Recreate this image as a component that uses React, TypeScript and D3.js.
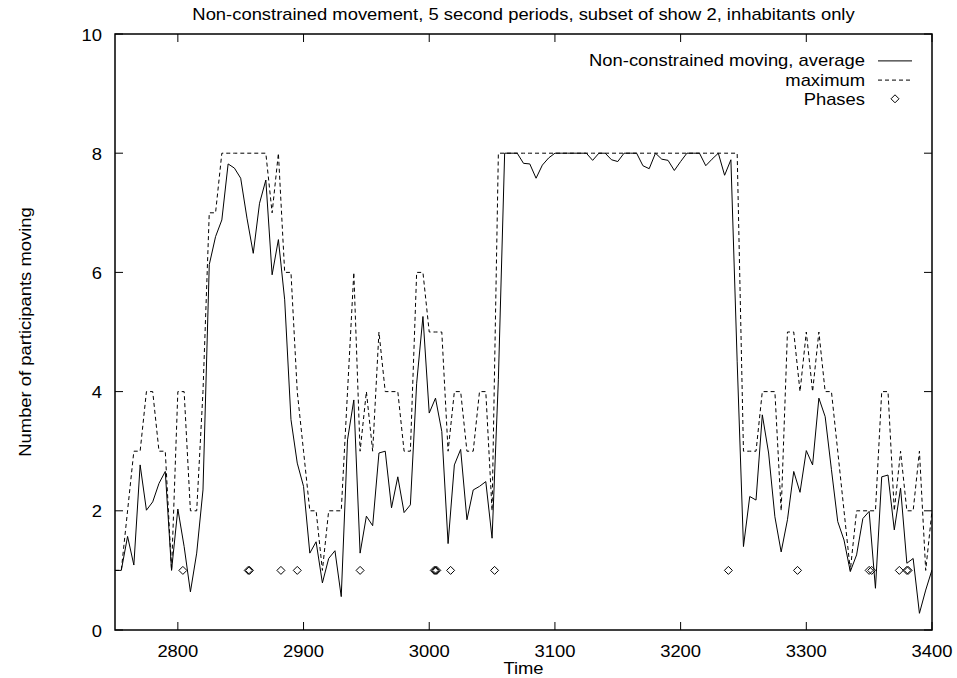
import * as d3 from 'd3'
import { useEffect, useRef } from 'react'

// sample times, 5 second periods
const times = [
  2750, 2755, 2760, 2765, 2770, 2775, 2780, 2785, 2790, 2795,
  2800, 2805, 2810, 2815, 2820, 2825, 2830, 2835, 2840, 2845,
  2850, 2855, 2860, 2865, 2870, 2875, 2880, 2885, 2890, 2895,
  2900, 2905, 2910, 2915, 2920, 2925, 2930, 2935, 2940, 2945,
  2950, 2955, 2960, 2965, 2970, 2975, 2980, 2985, 2990, 2995,
  3000, 3005, 3010, 3015, 3020, 3025, 3030, 3035, 3040, 3045,
  3050, 3055, 3060, 3065, 3070, 3075, 3080, 3085, 3090, 3095,
  3100, 3105, 3110, 3115, 3120, 3125, 3130, 3135, 3140, 3145,
  3150, 3155, 3160, 3165, 3170, 3175, 3180, 3185, 3190, 3195,
  3200, 3205, 3210, 3215, 3220, 3225, 3230, 3235, 3240, 3245,
  3250, 3255, 3260, 3265, 3270, 3275, 3280, 3285, 3290, 3295,
  3300, 3305, 3310, 3315, 3320, 3325, 3330, 3335, 3340, 3345,
  3350, 3355, 3360, 3365, 3370, 3375, 3380, 3385, 3390, 3395,
  3400,
]

const average = [
  1.0, 1.0, 1.57, 1.09, 2.77, 2.01, 2.15, 2.46, 2.66, 1.0,
  2.03, 1.4, 0.64, 1.29, 2.35, 6.13, 6.6, 6.88, 7.82, 7.75,
  7.58, 6.91, 6.32, 7.16, 7.55, 5.96, 6.55, 5.54, 3.53, 2.8,
  2.41, 1.29, 1.48, 0.79, 1.2, 1.33, 0.56, 3.19, 3.86, 1.29,
  1.91, 1.75, 2.97, 3.0, 2.05, 2.57, 1.97, 2.1, 4.14, 5.26,
  3.64, 3.89, 3.33, 1.45, 2.77, 3.03, 1.85, 2.35, 2.41, 2.49,
  1.54, 4.2, 8, 8, 8, 7.83, 7.82, 7.58, 7.8, 7.92,
  8, 8, 8, 8, 8, 8, 7.88, 8, 8, 7.89,
  7.86, 8, 8, 8, 7.79, 7.74, 8, 7.9, 7.88, 7.71,
  7.86, 8, 8, 8, 7.79, 7.9, 8, 7.63, 7.89, 4.5,
  1.4, 2.24, 2.18, 3.61, 2.97, 1.9, 1.31, 1.85, 2.66, 2.31,
  3.01, 2.77, 3.89, 3.58, 2.69, 1.82, 1.51, 0.98, 1.26, 1.87,
  1.99, 0.7, 2.57, 2.6, 1.68, 2.38, 1.12, 1.2, 0.28, 0.67,
  1.01,
]

const maximum = [
  1, 1, 2, 3, 3, 4, 4, 3, 3, 1,
  4, 4, 2, 2, 4, 7, 7, 8, 8, 8,
  8, 8, 8, 8, 8, 7, 8, 6, 6, 4,
  3, 2, 2, 1, 2, 2, 2, 4, 6, 3,
  4, 3, 5, 4, 4, 4, 3, 3, 6, 6,
  5, 5, 5, 3, 4, 4, 3, 3, 4, 4,
  2, 8, 8, 8, 8, 8, 8, 8, 8, 8,
  8, 8, 8, 8, 8, 8, 8, 8, 8, 8,
  8, 8, 8, 8, 8, 8, 8, 8, 8, 8,
  8, 8, 8, 8, 8, 8, 8, 8, 8, 8,
  3, 3, 3, 4, 4, 4, 2, 5, 5, 4,
  5, 4, 5, 4, 4, 3, 2, 1, 2, 2,
  2, 2, 4, 4, 2, 3, 2, 2, 3, 1,
  2,
]

const phaseTimes = [
  2804, 2856, 2857, 2882, 2895, 2945, 3004, 3005, 3006, 3017,
  3052, 3238, 3293, 3350, 3352, 3374, 3380, 3381,
]
const phaseValue = 1

const xTicks = [2800, 2900, 3000, 3100, 3200, 3300, 3400]
const yTicks = [0, 2, 4, 6, 8, 10]

const title = 'Non-constrained movement, 5 second periods, subset of show 2, inhabitants only'
const legendLabels = ['Non-constrained moving, average', 'maximum', 'Phases']

const W = 957,
  H = 678
const margin = { top: 34, right: 25, bottom: 48, left: 115 }
const FONT = 'Liberation Sans, Arial, Helvetica, sans-serif'
const FS = 17
const STRETCH = 1.082 // gnuplot's helvetica is a bit wider than arial

const App = () => {
  const ref = useRef<SVGSVGElement>(null)

  useEffect(() => {
    const svg = d3.select(ref.current)
    svg.selectAll('*').remove()

    const x = d3
      .scaleLinear()
      .domain([2750, 3400])
      .range([margin.left, W - margin.right])
    const y = d3
      .scaleLinear()
      .domain([0, 10])
      .range([H - margin.bottom, margin.top])

    const x0 = x.range()[0],
      x1 = x.range()[1],
      y0 = y.range()[0],
      y1 = y.range()[1]

    svg.append('rect').attr('width', W).attr('height', H).attr('fill', '#fff')

    svg
      .append('defs')
      .append('clipPath')
      .attr('id', 'plotclip')
      .append('rect')
      .attr('x', x0)
      .attr('y', y1)
      .attr('width', x1 - x0)
      .attr('height', y0 - y1)

    // tick marks, mirrored on all four sides, pointing inward
    const tk = 8
    const ticks = svg.append('g').attr('stroke', '#000').attr('stroke-width', 1)
    xTicks.forEach(function (t) {
      ticks.append('line').attr('x1', x(t)).attr('x2', x(t)).attr('y1', y0).attr('y2', y0 - tk)
      ticks.append('line').attr('x1', x(t)).attr('x2', x(t)).attr('y1', y1).attr('y2', y1 + tk)
    })
    yTicks.forEach(function (v) {
      ticks.append('line').attr('x1', x0).attr('x2', x0 + tk).attr('y1', y(v)).attr('y2', y(v))
      ticks.append('line').attr('x1', x1).attr('x2', x1 - tk).attr('y1', y(v)).attr('y2', y(v))
    })

    const text = svg
      .append('g')
      .attr('font-family', FONT)
      .attr('font-size', FS)
      .attr('fill', '#000')

    const label = function (px: number, py: number, str: string | number, anchor: string, rot?: boolean) {
      return text
        .append('text')
        .attr(
          'transform',
          'translate(' + px + ',' + py + ')' + (rot ? ' rotate(-90)' : '') + ' scale(' + STRETCH + ',1)',
        )
        .attr('text-anchor', anchor)
        .text(str)
    }

    xTicks.forEach(function (t) {
      label(x(t), 656.5, t, 'middle')
    })
    yTicks.forEach(function (v) {
      label(102, y(v) + 6.5, v, 'end')
    })

    label((x0 + x1) / 2, 20, title, 'middle')
    label((x0 + x1) / 2, 674, 'Time', 'middle')
    label(31, (y0 + y1) / 2, 'Number of participants moving', 'middle', true)

    const idx = d3.range(times.length)
    const plot = svg.append('g').attr('clip-path', 'url(#plotclip)')

    const avgLine = d3
      .line<number>()
      .x(function (i) {
        return x(times[i])
      })
      .y(function (i) {
        return y(average[i])
      })
    const maxLine = d3
      .line<number>()
      .x(function (i) {
        return x(times[i])
      })
      .y(function (i) {
        return y(maximum[i])
      })

    plot
      .append('path')
      .attr('d', avgLine(idx))
      .attr('fill', 'none')
      .attr('stroke', '#000')
      .attr('stroke-width', 1)

    plot
      .append('path')
      .attr('d', maxLine(idx))
      .attr('fill', 'none')
      .attr('stroke', '#000')
      .attr('stroke-width', 1)
      .attr('stroke-dasharray', '4,3')

    const diamond = function (cx: number, cy: number) {
      const r = 4
      return 'M' + cx + ',' + (cy - r) + 'L' + (cx + r) + ',' + cy + 'L' + cx + ',' + (cy + r) + 'L' + (cx - r) + ',' + cy + 'Z'
    }

    plot
      .selectAll('.phase')
      .data(phaseTimes)
      .enter()
      .append('path')
      .attr('class', 'phase')
      .attr('d', function (t) {
        return diamond(x(t), y(phaseValue))
      })
      .attr('fill', 'none')
      .attr('stroke', '#000')
      .attr('stroke-width', 1)

    // legend
    const rows = [66.4, 85.6, 104.8]
    legendLabels.forEach(function (s, i) {
      label(865, rows[i], s, 'end')
    })
    const lg = svg.append('g')
    lg.append('line')
      .attr('x1', 878)
      .attr('x2', 912)
      .attr('y1', rows[0] - 5.5)
      .attr('y2', rows[0] - 5.5)
      .attr('stroke', '#000')
    lg.append('line')
      .attr('x1', 878)
      .attr('x2', 912)
      .attr('y1', rows[1] - 5.5)
      .attr('y2', rows[1] - 5.5)
      .attr('stroke', '#000')
      .attr('stroke-dasharray', '4,3')
    lg.append('path')
      .attr('d', diamond(895, rows[2] - 6))
      .attr('fill', 'none')
      .attr('stroke', '#000')

    // frame
    svg
      .append('rect')
      .attr('x', x0)
      .attr('y', y1)
      .attr('width', x1 - x0)
      .attr('height', y0 - y1)
      .attr('fill', 'none')
      .attr('stroke', '#000')
      .attr('stroke-width', 1.5)
  }, [])

  return (
    <svg
      ref={ref}
      width={W}
      height={H}
      style={{ position: 'absolute', left: 0, top: 0, display: 'block' }}
    />
  )
}

export default App
